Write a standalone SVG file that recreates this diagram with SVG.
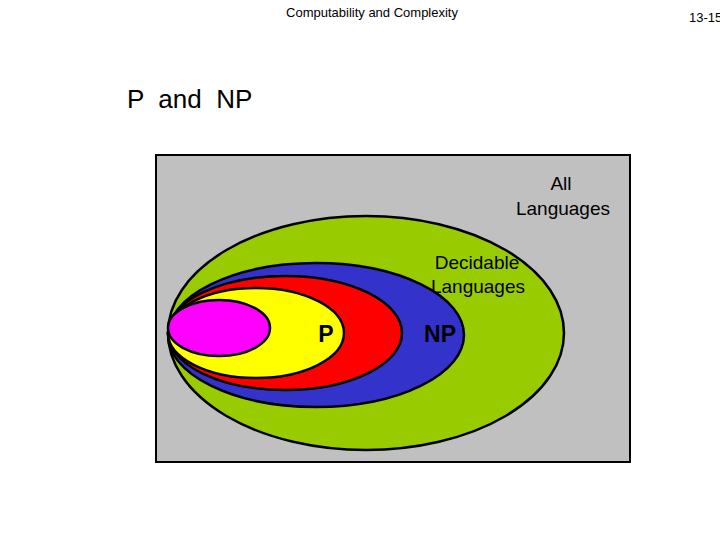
<svg xmlns="http://www.w3.org/2000/svg" width="720" height="540" viewBox="0 0 720 540">
<style>
text{font-family:"Liberation Sans",Arial,sans-serif;fill:#000}
.e{stroke:#000;stroke-width:2.5}
.m{font-size:19px;text-anchor:middle}
.b{font-size:23px;text-anchor:middle;font-weight:bold}
</style>
<rect width="720" height="540" fill="#fff"/>
<text x="372" y="17" font-size="13" text-anchor="middle">Computability and Complexity</text>
<text x="689" y="22" font-size="13">13-15</text>
<text x="127" y="108" font-size="26" style="white-space:pre" xml:space="preserve">P  and  NP</text>
<g id="all"><rect x="156" y="155" width="474" height="307" fill="#c0c0c0" stroke="#000" stroke-width="2"/>
<text class="m" x="561" y="190">All</text><text class="m" x="563" y="215">Languages</text></g>
<g id="decidable"><ellipse class="e" cx="366" cy="333" rx="198" ry="117" fill="#99cc00"/>
<text class="m" x="477" y="269">Decidable</text><text class="m" x="478" y="293">Languages</text></g>
<g id="np"><ellipse class="e" cx="316" cy="335" rx="148" ry="72" fill="#3333cc"/></g>
<g id="p"><ellipse class="e" cx="285" cy="333" rx="117" ry="57" fill="#ff0000"/></g>
<g id="yellow"><ellipse class="e" cx="256" cy="333" rx="88" ry="45" fill="#ffff00"/></g>
<g id="magenta"><ellipse class="e" cx="219" cy="328" rx="51" ry="28" fill="#ff00ff"/></g>
<text class="b" x="326" y="342">P</text>
<text class="b" x="440" y="342">NP</text>
</svg>
